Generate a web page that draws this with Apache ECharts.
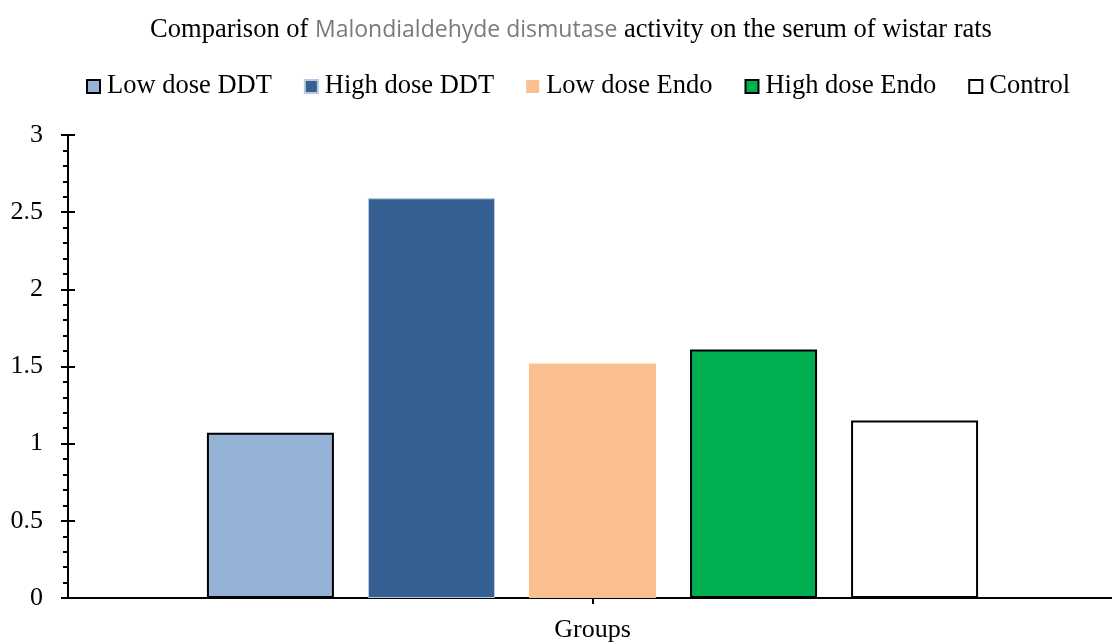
<!DOCTYPE html>
<html>
<head>
<meta charset="utf-8">
<script src="https://cdn.jsdelivr.net/npm/echarts@6/dist/echarts.min.js"></script>
<style>
  html, body { margin: 0; padding: 0; background: #fff; overflow: hidden; }
  #chart { width: 1117px; height: 643px; }
</style>
</head>
<body>
<div id="chart"></div>
<script>
// Malondialdehyde dismutase activity by treatment group
const categories = ['Groups'];
const seriesNames = ['Low dose DDT', 'High dose DDT', 'Low dose Endo', 'High dose Endo', 'Control'];
const lowDoseDDT = [1.07];
const highDoseDDT = [2.59];
const lowDoseEndo = [1.52];
const highDoseEndo = [1.61];
const control = [1.15];
const yTicks = [0, 0.5, 1, 1.5, 2, 2.5, 3];

const serif = '"Liberation Serif", "Times New Roman", serif';

const seriesData = [lowDoseDDT, highDoseDDT, lowDoseEndo, highDoseEndo, control];
const fills = ['#95b3d7', '#366092', '#fac090', '#00b050', '#ffffff'];
const borders = [
  { borderColor: '#000', borderWidth: 2 },
  { borderColor: '#b9c9e0', borderWidth: 1 },
  { borderColor: '#fac090', borderWidth: 0 },
  { borderColor: '#000', borderWidth: 2 },
  { borderColor: '#000', borderWidth: 2 }
];

const chart = echarts.init(document.getElementById('chart'), null, { renderer: 'canvas' });

const yBase = {
  type: 'value',
  min: yTicks[0],
  max: yTicks[yTicks.length - 1],
  interval: 0.5,
  splitLine: { show: false }
};

chart.setOption({
  animation: false,
  backgroundColor: '#fff',
  title: {
    text: '{a|Comparison of }{b|Malondialdehyde dismutase}{a| activity on the serum of wistar rats}',
    left: 566,
    textAlign: 'center',
    top: 12,
    textStyle: {
      fontWeight: 'normal',
      rich: {
        a: { fontFamily: serif, fontSize: 26.5, fontWeight: 'normal', color: '#000' },
        b: { fontFamily: '"Open Sans", "Noto Sans", sans-serif', fontSize: 23, fontWeight: 'normal', color: '#7a7a7a' }
      }
    }
  },
  legend: {
    top: 73,
    left: 86,
    padding: 0,
    itemWidth: 13,
    itemHeight: 13,
    itemGap: 32,
    icon: 'rect',
    textStyle: { fontFamily: serif, fontSize: 26.5, color: '#000', padding: [0, 0, 0, 2] },
    data: seriesNames
  },
  grid: { left: 68, right: 0, top: 135, bottom: 45, containLabel: false },
  xAxis: {
    type: 'category',
    data: categories,
    axisLine: { lineStyle: { color: '#000', width: 2 } },
    axisTick: { show: true, alignWithLabel: true, length: 6, lineStyle: { color: '#000', width: 2 } },
    axisLabel: { fontFamily: serif, fontSize: 26, color: '#000', margin: 19 }
  },
  yAxis: [
    Object.assign({}, yBase, {
      axisLine: { show: true, lineStyle: { color: '#000', width: 2 } },
      axisTick: { show: true, length: 7, lineStyle: { color: '#000', width: 2 } },
      minorTick: { show: true, splitNumber: 5, length: 5, lineStyle: { color: '#000', width: 2 } },
      axisLabel: {
        fontFamily: serif, fontSize: 26, color: '#000', margin: 25,
        formatter: v => String(v)
      }
    }),
    Object.assign({}, yBase, {
      position: 'left',
      axisLine: { show: false },
      axisTick: { show: true, inside: true, length: 7, lineStyle: { color: '#000', width: 2 } },
      axisLabel: { show: false }
    })
  ],
  series: seriesNames.map((name, i) => ({
    name: name,
    type: 'bar',
    yAxisIndex: 0,
    data: seriesData[i],
    barWidth: 127,
    barGap: '26.8%',
    itemStyle: Object.assign({ color: fills[i] }, borders[i])
  }))
});
</script>
</body>
</html>
